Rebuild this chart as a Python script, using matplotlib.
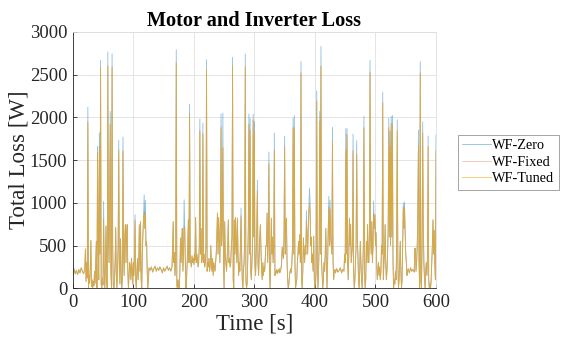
import matplotlib.pyplot as plt
import numpy as np

# drive cycle samples (time in s, loss in W, WF-Zero)
time_s = [0, 2, 4, 6, 8, 10, 12, 14, 16, 18, 20,
          21, 22, 23, 24, 25, 26, 27, 28, 29, 30, 31, 32, 33, 34, 35, 36, 37, 38, 39, 40,
          41, 42, 43, 44, 45, 46, 47, 48, 49, 50, 51, 52, 53, 54, 55, 56, 57, 58, 59, 60,
          61, 62, 63, 64, 65, 66, 67, 68, 69, 70, 71, 72, 73, 74, 75, 76, 77, 78, 79, 80,
          81, 82, 83, 84, 85, 86, 87, 88, 89, 90, 91, 92, 93, 94, 95, 96, 97, 98, 99, 100,
          101, 102, 103, 104, 105, 106, 107, 108, 109, 110, 111, 112, 113, 114, 115, 116,
          117, 118, 119, 120, 121, 122, 123, 124, 125, 126, 128, 130, 132, 134, 136, 138,
          140, 142, 144, 146, 148, 150, 152, 154, 156, 158, 160, 162, 164, 165, 166, 167,
          168, 169, 170, 171, 172, 173, 174, 175, 176, 177, 178, 179, 180, 181, 182, 183,
          184, 185, 186, 187, 188, 189, 190, 191, 192, 193, 194, 195, 196, 197, 198, 199,
          200, 201, 202, 203, 204, 205, 206, 207, 208, 209, 210, 211, 212, 213, 214, 215,
          216, 217, 218, 219, 220, 221, 222, 223, 224, 225, 226, 227, 228, 229, 230, 231,
          232, 233, 234, 235, 236, 237, 238, 239, 240, 241, 242, 243, 244, 245, 246, 247,
          248, 249, 250, 251, 252, 253, 254, 255, 256, 257, 258, 259, 260, 261, 262, 263,
          264, 265, 266, 267, 268, 269, 270, 271, 272, 273, 274, 275, 276, 277, 278, 279,
          280, 281, 282, 283, 284, 285, 286, 287, 288, 289, 290, 291, 292, 293, 294, 295,
          296, 297, 298, 299, 300, 301, 302, 303, 304, 305, 306, 307, 308, 309, 310, 311,
          312, 313, 314, 315, 316, 317, 318, 319, 320, 321, 322, 323, 324, 325, 326, 327,
          328, 329, 330, 331, 332, 333, 334, 335, 336, 337, 338, 339, 340, 341, 342, 343,
          344, 345, 346, 347, 348, 349, 350, 351, 352, 353, 354, 355, 356, 357, 358, 359,
          360, 361, 362, 363, 364, 365, 366, 367, 368, 369, 370, 371, 372, 373, 374, 375,
          376, 377, 378, 379, 380, 381, 382, 383, 384, 385, 386, 387, 388, 389, 390, 391,
          392, 393, 394, 395, 396, 397, 398, 399, 400, 401, 402, 403, 404, 405, 406, 407,
          408, 409, 410, 411, 412, 413, 414, 415, 416, 417, 418, 419, 420, 421, 422, 423,
          424, 425, 426, 427, 428, 429, 430, 431, 432, 433, 434, 436, 438, 440, 442, 444,
          446, 448, 449, 450, 451, 452, 453, 454, 455, 456, 457, 458, 459, 460, 461, 462,
          463, 464, 465, 466, 467, 468, 469, 470, 471, 472, 473, 474, 475, 476, 477, 478,
          479, 480, 481, 482, 483, 484, 485, 486, 487, 488, 489, 490, 491, 492, 493, 494,
          495, 496, 497, 498, 499, 500, 501, 502, 503, 504, 505, 506, 507, 508, 509, 510,
          511, 512, 513, 514, 515, 516, 517, 518, 519, 520, 521, 522, 523, 524, 525, 526,
          527, 528, 529, 530, 531, 532, 533, 534, 535, 536, 537, 538, 539, 540, 541, 542,
          543, 544, 545, 546, 547, 548, 549, 550, 551, 552, 553, 554, 556, 558, 560, 562,
          564, 565, 566, 567, 568, 569, 570, 571, 572, 573, 574, 575, 576, 577, 578, 579,
          580, 581, 582, 583, 584, 585, 586, 587, 588, 589, 590, 591, 592, 593, 594, 595,
          596, 597, 598, 599, 600]

loss_zero = [190, 230, 170, 210, 160, 220, 180, 240, 200, 170, 230,
             460, 80, 300, 120, 2120, 0, 150, 60, 250, 560, 20, 100, 0, 80, 30, 200, 60, 300, 550, 0,
             1660, 520, 100, 1816, 400, 2666, 50, 0, 120, 40, 1017, 200, 0, 300, 728, 100, 0, 2763, 600, 300,
             1000, 2069, 200, 0, 2743, 500, 30, 0, 100, 300, 710, 150, 0, 200, 500, 1730, 250, 50, 580, 200,
             0, 100, 1769, 400, 150, 600, 744, 300, 620, 744, 200, 0, 150, 300, 250, 100, 350, 200, 50, 300,
             150, 400, 861, 100, 0, 200, 350, 100, 300, 744, 200, 780, 100, 0, 400, 650,
             820, 1094, 700, 1030, 500, 550, 200, 0, 100, 240, 210, 250, 190, 230, 260, 200,
             240, 210, 250, 220, 180, 240, 200, 230, 260, 210, 240, 200, 250, 500, 780, 300,
             420, 150, 300, 2790, 30, 0, 100, 20, 0, 200, 588, 300, 550, 700, 200, 400,
             1036, 700, 300, 0, 100, 300, 500, 802, 300, 2155, 400, 300, 250, 380, 300, 350,
             280, 400, 330, 830, 300, 400, 350, 250, 300, 500, 1980, 400, 700, 300, 350, 1933,
             300, 400, 250, 300, 500, 2673, 200, 300, 250, 350, 200, 250, 500, 300, 200, 350,
             150, 300, 250, 200, 300, 400, 600, 880, 400, 830, 600, 300, 800, 2038, 500, 700,
             2050, 300, 0, 780, 400, 300, 200, 350, 500, 800, 300, 350, 250, 300, 500, 600,
             2700, 100, 0, 800, 400, 830, 500, 300, 820, 400, 150, 300, 200, 500, 939, 400,
             100, 0, 200, 300, 600, 2740, 100, 0, 50, 300, 700, 2038, 400, 1990, 200, 100,
             300, 500, 2038, 600, 1950, 300, 150, 400, 700, 1263, 300, 150, 400, 600, 744, 430,
             200, 100, 300, 150, 250, 200, 350, 500, 500, 880, 300, 600, 1594, 200, 0, 300,
             820, 400, 600, 300, 500, 1816, 150, 200, 180, 220, 170, 210, 190, 230, 180, 200,
             230, 300, 480, 400, 350, 600, 1777, 400, 780, 820, 300, 100, 0, 50, 150, 200,
             230, 180, 300, 500, 1991, 400, 2022, 300, 0, 50, 100, 300, 400, 550, 400, 630,
             300, 2654, 100, 0, 200, 590, 400, 300, 500, 400, 907, 600, 400, 700, 900, 1173,
             1017, 500, 600, 300, 400, 200, 610, 100, 0, 50, 200, 2310, 300, 0, 200, 500,
             2069, 400, 2829, 300, 150, 0, 100, 300, 200, 400, 700, 300, 0, 300, 700, 1076,
             500, 1030, 600, 490, 400, 1882, 300, 100, 200, 220, 180, 230, 190, 210, 240, 180,
             220, 200, 400, 300, 1866, 400, 1870, 300, 100, 400, 820, 500, 750, 300, 400, 500,
             1804, 200, 0, 100, 300, 500, 1726, 600, 400, 100, 0, 200, 550, 300, 100, 0,
             200, 500, 2011, 200, 0, 100, 550, 300, 745, 400, 300, 600, 2666, 600, 400, 780,
             300, 500, 1020, 700, 860, 500, 650, 300, 100, 200, 300, 150, 250, 100, 200, 500,
             400, 2295, 100, 300, 400, 745, 300, 100, 200, 400, 700, 1991, 600, 1840, 500, 2011,
             600, 2022, 300, 0, 100, 50, 200, 100, 500, 1970, 300, 0, 100, 300, 550, 200,
             0, 100, 500, 997, 700, 1010, 650, 400, 300, 150, 200, 230, 180, 240, 200, 220,
             190, 470, 460, 200, 300, 500, 900, 1851, 300, 0, 2650, 100, 0, 500, 1948, 750,
             300, 100, 0, 200, 300, 150, 400, 1781, 100, 0, 50, 0, 100, 300, 500, 800,
             400, 680, 300, 100, 1792]

# peak values where the other two strategies sit below WF-Zero
fixed_peaks = {25: 1950, 41: 1590, 44: 1660, 46: 2580, 51: 800, 58: 2600, 62: 1920,
               65: 2590, 76: 1620, 83: 1610, 103: 800, 118: 900, 120: 880, 171: 2640,
               184: 720, 193: 2040, 210: 1850, 215: 1810, 221: 2560, 245: 1890,
               248: 1640, 264: 2600, 278: 850, 285: 2590, 291: 1920, 293: 1850,
               298: 1970, 300: 1840, 305: 1140, 324: 1460, 333: 1620, 350: 1660,
               364: 1880, 366: 1880, 377: 2520, 386: 790, 391: 990, 392: 900, 403: 2190,
               408: 1950, 410: 2600, 423: 950, 425: 930, 429: 1720, 451: 1610, 453: 1800,
               463: 1610, 469: 1570, 481: 1880, 491: 2530, 497: 870, 512: 2170, 522: 1880,
               524: 1660, 526: 1930, 528: 1920, 536: 1840, 546: 950, 548: 940, 571: 1660,
               574: 2520, 578: 1820, 587: 1660, 600: 1610}
tuned_peaks = {25: 1930, 41: 1570, 44: 1640, 46: 2570, 51: 780, 58: 2595, 62: 1905,
               65: 2583, 76: 1600, 83: 1600, 103: 780, 118: 860, 120: 860, 171: 2634,
               184: 700, 193: 2030, 210: 1835, 215: 1800, 221: 2556, 245: 1874,
               248: 1650, 264: 2595, 278: 830, 285: 2584, 291: 1915, 293: 1835,
               298: 1970, 300: 1835, 305: 1100, 324: 1450, 333: 1600, 350: 1650,
               364: 1874, 366: 1874, 377: 2517, 386: 780, 391: 975, 392: 880, 403: 2186,
               408: 1950, 410: 2596, 423: 940, 425: 920, 429: 1720, 451: 1620, 453: 1800,
               463: 1600, 469: 1560, 481: 1874, 491: 2520, 497: 860, 512: 2166, 522: 1874,
               524: 1650, 526: 1915, 528: 1915, 536: 1835, 546: 940, 548: 930, 571: 1650,
               574: 2513, 578: 1810, 587: 1652, 600: 1600}

loss_fixed = [fixed_peaks.get(t, v) for t, v in zip(time_s, loss_zero)]
loss_tuned = [tuned_peaks.get(t, v) for t, v in zip(time_s, loss_zero)]

plt.rcParams['font.family'] = ['Liberation Serif', 'DejaVu Serif']

fig = plt.figure(figsize=(5.62, 3.38), dpi=100)
ax = fig.add_axes([0.1294, 0.147, 0.6464, 0.759])

ax.plot(time_s, loss_zero, color='#0072BD', lw=0.6, alpha=0.45, label='WF-Zero')
ax.plot(time_s, loss_fixed, color='#D95319', lw=0.6, alpha=0.35, label='WF-Fixed')
ax.plot(time_s, loss_tuned, color='#EDB120', lw=0.6, alpha=0.7, label='WF-Tuned')

ax.set_xlim(0, 600)
ax.set_ylim(0, 3000)
ax.set_xticks(np.arange(0, 601, 100))
ax.set_yticks(np.arange(0, 3001, 500))
ax.grid(True, color='#dfdfdf', lw=0.6)
ax.set_axisbelow(True)

for side in ['top', 'right']:
    ax.spines[side].set_color('#dfdfdf')
    ax.spines[side].set_linewidth(0.6)
for side in ['left', 'bottom']:
    ax.spines[side].set_color('#262626')
    ax.spines[side].set_linewidth(0.6)
ax.tick_params(direction='in', length=3, width=0.6, color='#262626',
               labelsize=13.4, labelcolor='#262626', pad=4)

ax.set_title('Motor and Inverter Loss', fontsize=14.6, fontweight='bold', pad=4)
ax.set_xlabel('Time [s]', fontsize=16.5, color='#262626', labelpad=2)
ax.set_ylabel('Total Loss [W]', fontsize=16.5, color='#262626', labelpad=0)

leg = ax.legend(loc='center left', bbox_to_anchor=(0.815, 0.52),
                bbox_transform=fig.transFigure, fontsize=10.3, frameon=True,
                fancybox=False, edgecolor='#7a7a7a', handlelength=2.0,
                handletextpad=0.1, borderpad=0.3, labelspacing=0.25, borderaxespad=0)
leg.get_frame().set_linewidth(0.6)

fig.savefig('out.png', dpi=100)
